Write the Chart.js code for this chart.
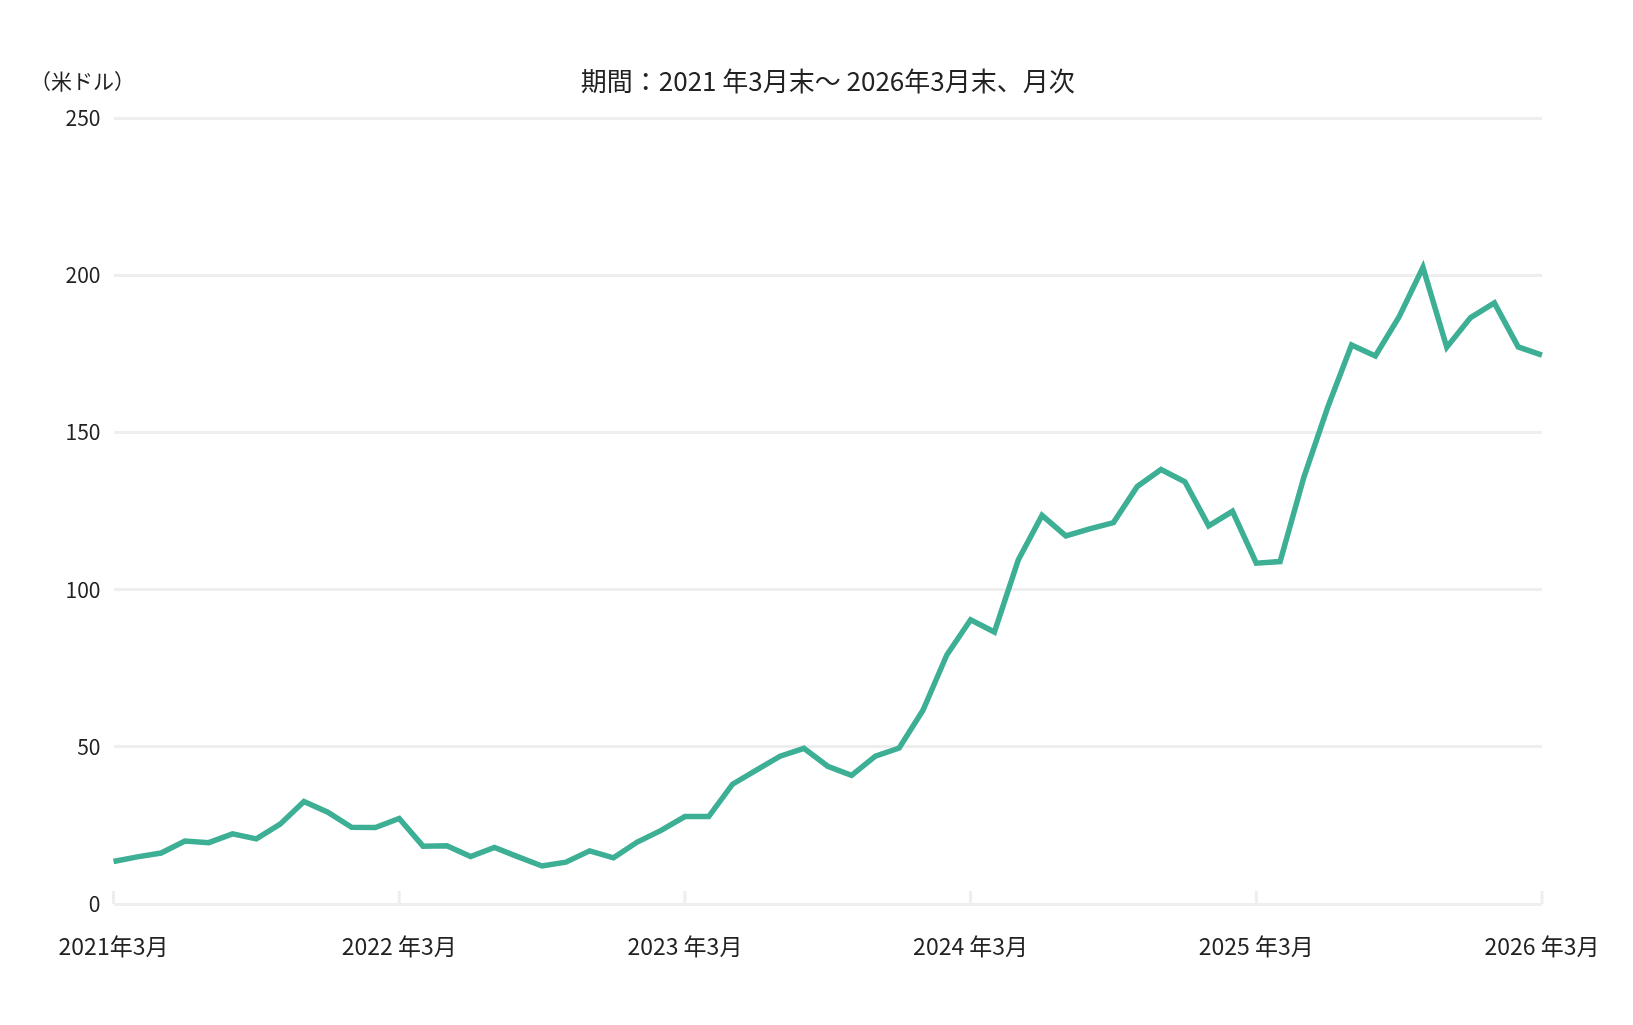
<!DOCTYPE html>
<html lang="ja">
<head>
<meta charset="utf-8">
<title>期間：2021年3月末～2026年3月末、月次</title>
<script src="https://cdn.jsdelivr.net/npm/chart.js@4.4.1/dist/chart.umd.min.js"></script>
<style>
    html, body { margin: 0; padding: 0; background: #ffffff; }
    #wrap { width: 1633px; height: 1025px; position: relative; }
</style>
</head>
<body>
<div id="wrap"><canvas id="priceChart" width="1633" height="1025"></canvas></div>
<script>
// ===== data =====
const titleText = '期間：2021 年3月末～ 2026年3月末、月次';
const unitText = '（米ドル）';

// monthly, 2021-03 .. 2026-03 (61 points)
const monthLabels = [];
for (let y = 2021, m = 3; y < 2026 || (y === 2026 && m <= 3); ) {
    monthLabels.push(y + '年' + m + '月');
    m++;
    if (m > 12) { m = 1; y++; }
}

const priceValues = [
    13.5, 15.0, 16.2, 20.0, 19.5, 22.3, 20.7, 25.4, 32.6, 29.2, 24.4, 24.3,
    27.2, 18.4, 18.5, 15.1, 18.0, 15.0, 12.1, 13.3, 16.9, 14.7, 19.7, 23.4,
    27.8, 27.8, 38.1, 42.6, 47.0, 49.5, 43.8, 40.9, 47.0, 49.6, 61.6, 79.2,
    90.4, 86.5, 109.4, 123.6, 117.1, 119.3, 121.3, 132.8, 138.2, 134.3, 120.3, 124.9,
    108.4, 108.9, 135.8, 158.0, 177.8, 174.3, 186.8, 202.5, 177.1, 186.5, 191.2, 177.2,
    174.6
];

// x tick labels, one per March
const tickLabels = ['2021年3月', '2022 年3月', '2023 年3月', '2024 年3月', '2025 年3月', '2026 年3月'];
const yTicks = [0, 50, 100, 150, 200, 250];

const FONT = '"Noto Sans CJK JP", "Noto Sans", sans-serif';
const TEXT_COLOR = '#222222';
const GRID_COLOR = '#eeeeee';
const LINE_COLOR = '#3daf95';

// title + unit label drawn above the plot
const headerPlugin = {
    id: 'header',
    afterDraw(chart) {
        const ctx = chart.ctx;
        const area = chart.chartArea;
        ctx.save();
        ctx.fillStyle = TEXT_COLOR;
        ctx.textBaseline = 'middle';
        ctx.font = '26px ' + FONT;
        ctx.textAlign = 'center';
        ctx.fillText(titleText, (area.left + area.right) / 2, 81);
        ctx.font = '21px ' + FONT;
        ctx.textAlign = 'left';
        ctx.fillText(unitText, 30, 81);
        ctx.restore();
    }
};

// short tick marks standing up from the x axis
const xTickMarks = {
    id: 'xTickMarks',
    beforeDatasetsDraw(chart) {
        const ctx = chart.ctx;
        const xScale = chart.scales.x;
        const bottom = chart.chartArea.bottom;
        ctx.save();
        ctx.strokeStyle = GRID_COLOR;
        ctx.lineWidth = 3;
        xScale.ticks.forEach(function(t) {
            const x = xScale.getPixelForValue(t.value);
            ctx.beginPath();
            ctx.moveTo(x, bottom);
            ctx.lineTo(x, bottom - 13);
            ctx.stroke();
        });
        ctx.restore();
    }
};

new Chart(document.getElementById('priceChart'), {
    type: 'line',
    data: {
        labels: monthLabels,
        datasets: [{
            data: priceValues,
            borderColor: LINE_COLOR,
            borderWidth: 5.5,
            pointRadius: 0,
            tension: 0,
            fill: false
        }]
    },
    options: {
        responsive: false,
        animation: false,
        devicePixelRatio: 1,
        layout: { padding: { top: 118, right: 91, bottom: 0, left: 0 } },
        plugins: {
            legend: { display: false },
            tooltip: { enabled: false }
        },
        scales: {
            x: {
                type: 'category',
                offset: false,
                grid: { display: false, drawTicks: false },
                border: { display: false },
                afterBuildTicks: function(axis) {
                    axis.ticks = axis.ticks.filter(function(t) { return t.value % 12 === 0; });
                },
                afterFit: function(scale) { scale.height = 121; },
                ticks: {
                    autoSkip: false,
                    maxRotation: 0,
                    padding: 28,
                    color: TEXT_COLOR,
                    font: { family: FONT, size: 23 },
                    callback: function(value) { return tickLabels[value / 12]; }
                }
            },
            y: {
                min: 0,
                max: 250,
                afterBuildTicks: function(axis) {
                    axis.ticks = yTicks.map(function(v) { return { value: v }; });
                },
                afterFit: function(scale) { scale.width = 113.5; },
                grid: { color: GRID_COLOR, lineWidth: 3, drawTicks: false },
                border: { display: false },
                ticks: {
                    padding: 13,
                    color: TEXT_COLOR,
                    font: { family: FONT, size: 21 }
                }
            }
        }
    },
    plugins: [headerPlugin, xTickMarks]
});
</script>
</body>
</html>
